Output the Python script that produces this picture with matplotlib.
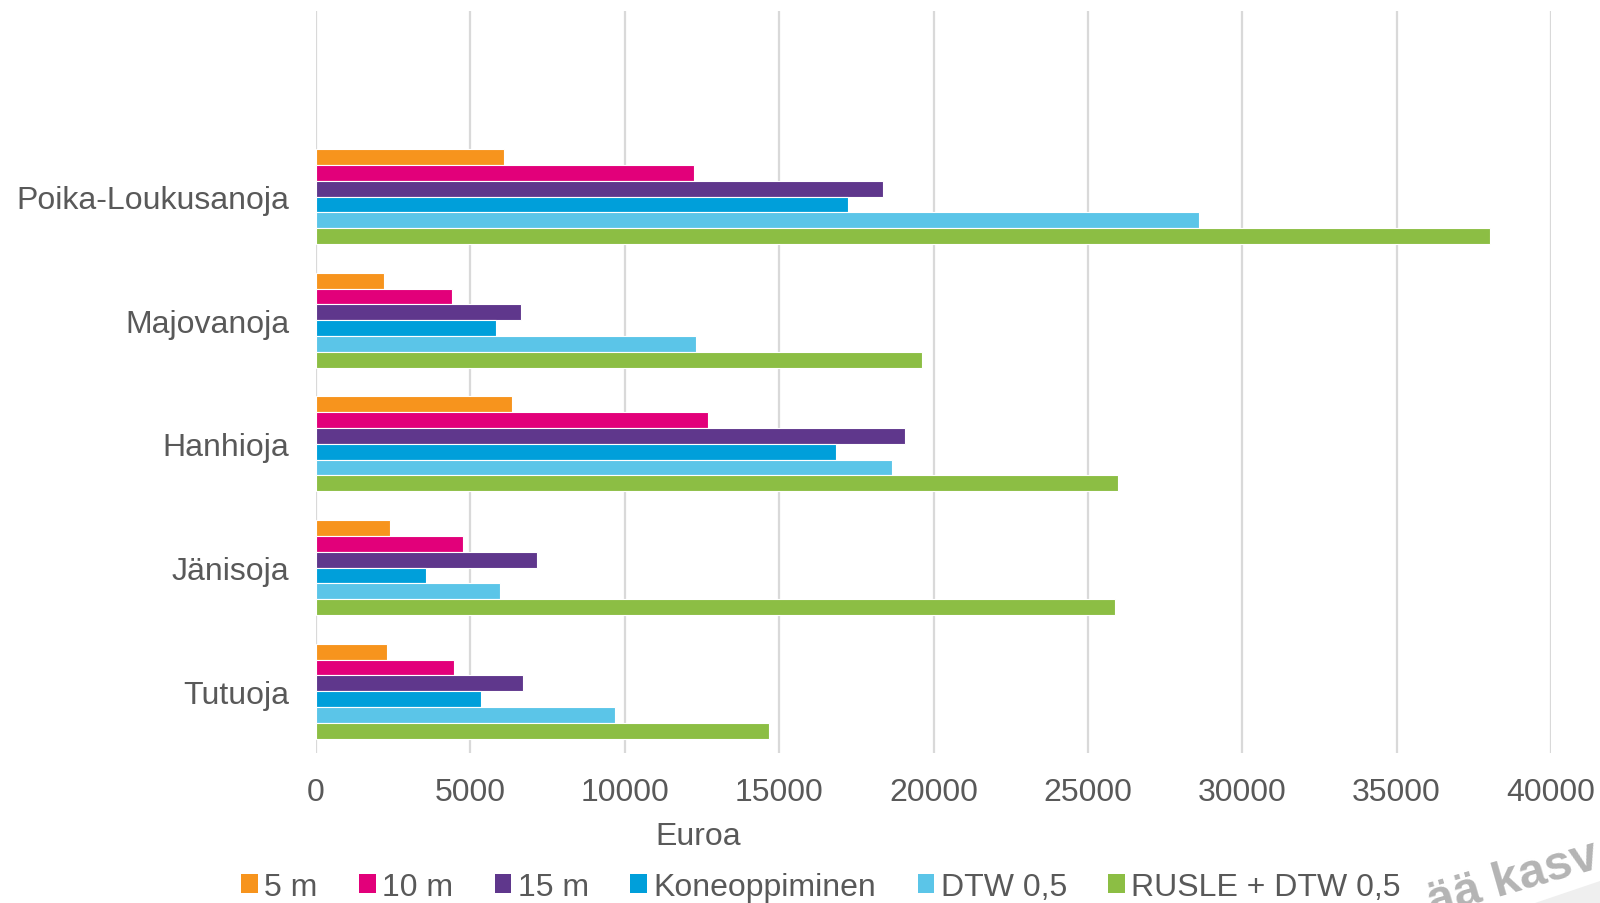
import matplotlib
matplotlib.use("Agg")
import matplotlib.pyplot as plt
from matplotlib.patches import Patch, Polygon
import numpy as np

plt.rcParams['font.family'] = ['Liberation Sans', 'DejaVu Sans']

categories = ["Poika-Loukusanoja", "Majovanoja", "Hanhioja", "Jänisoja", "Tutuoja"]
series = ["5 m", "10 m", "15 m", "Koneoppiminen", "DTW 0,5", "RUSLE + DTW 0,5"]
v_5m = [6100, 2200, 6350, 2390, 2310]
v_10m = [12230, 4410, 12700, 4760, 4460]
v_15m = [18370, 6630, 19080, 7170, 6710]
v_kone = [17230, 5830, 16850, 3560, 5350]
v_dtw = [28600, 12310, 18640, 5960, 9700]
v_rusle = [38020, 19640, 25980, 25880, 14660]
colors = ["#F7941D", "#E2007A", "#5F378C", "#009FDA", "#5BC5E8", "#8CBE44"]
xticks = [0, 5000, 10000, 15000, 20000, 25000, 30000, 35000, 40000]

values = [v_5m, v_10m, v_15m, v_kone, v_dtw, v_rusle]

fig = plt.figure(figsize=(16, 9.04), dpi=100)
ax = fig.add_axes([316/1600, 150/904, (1551-316)/1600, (754-12)/904])

n = len(categories)
ypos = np.arange(n)[::-1]  # Poika at top
h = 0.128
for j, (vals, c) in enumerate(zip(values, colors)):
    off = (2.5 - j) * h
    ax.barh(ypos + off, vals, height=h, color=c, edgecolor="white", linewidth=0.8, zorder=3)

ax.set_ylim(-0.5, n + 0.5)
ax.set_xlim(0, 40000)
ax.set_xticks(xticks)
ax.set_xticklabels([str(t) for t in xticks])
ax.set_yticks(ypos)
ax.set_yticklabels(categories)
for s in ax.spines.values():
    s.set_visible(False)
ax.grid(axis="x", color="#d9d9d9", linewidth=1.6, zorder=0)
ax.tick_params(axis="both", length=0, labelsize=23, labelcolor="#595959")
ax.tick_params(axis="x", pad=17)
ax.tick_params(axis="y", pad=19)

ax.set_xlabel("Euroa", fontsize=23, color="#595959")
ax.xaxis.set_label_coords((698-316)/(1551-316), -(837-754)/742)
ax.xaxis.label.set_va("center")

handles = [Patch(facecolor=c, edgecolor="none") for c in colors]
fig.legend(handles, series, loc="center", bbox_to_anchor=(821/1600, 1 - 888/904),
           ncol=6, frameon=False, fontsize=23, labelcolor="#595959",
           handlelength=0.52, handleheight=0.52, handletextpad=0.2,
           columnspacing=1.3, borderaxespad=0, borderpad=0)

# watermark fragment (cut off at the figure edge, as in the source image)
fig.patches.append(Polygon([[1535/1600, 0], [1600/1600, 0], [1600/1600, 22/904]],
                           closed=True, transform=fig.transFigure,
                           facecolor="#efefef", edgecolor="none", zorder=0))
fig.text(1432/1600, 1 - 916/904, "ää kasv", rotation=16, fontsize=35, fontweight="bold",
         color="#b4b4b4", ha="left", va="baseline", rotation_mode="anchor")

fig.savefig("out.png", dpi=100, facecolor="white")
